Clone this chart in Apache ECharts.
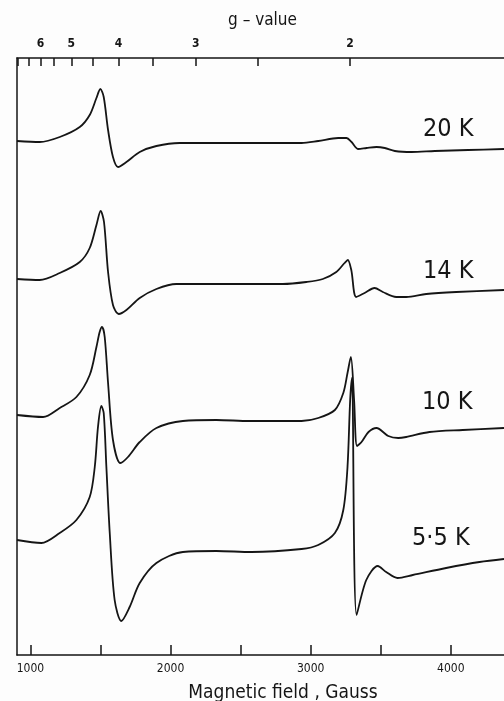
<!DOCTYPE html>
<html>
<head>
<meta charset="utf-8">
<script src="https://cdn.jsdelivr.net/npm/echarts@6/dist/echarts.min.js"></script>
<style>
  html, body { margin: 0; padding: 0; background: #fdfdfd; }
  #chart { width: 504px; height: 701px; }
</style>
</head>
<body>
<div id="chart"></div>
<script>
// Magnetic field range (Gauss)
const fieldMin = 904;
const fieldMax = 4380;
const fieldTicks = [1000, 1500, 2000, 2500, 3000, 3500, 4000];
const fieldLabels = [1000, 2000, 3000, 4000];

// g-value scale (top axis): tick g-values and their field positions (Gauss)
const gTicks = [7, 6.5, 6, 5.5, 5, 4.5, 4, 3.5, 3, 2.5, 2];
const gTickField = [912, 990, 1071, 1168, 1292, 1447, 1628, 1870, 2179, 2621, 3280];
const gLabels = ['6', '5', '4', '3', '2'];
const gLabelField = [1071, 1292, 1628, 2179, 3280];

// Temperatures (series names / labels)
const temps = ['20 K', '14 K', '10 K', '5·5 K'];

// Spectra: [field (G), signal (arb. units, vertically offset)]
const spec20K = [[904,514],[1066,513],[1209,518],[1352,528],[1423,540],[1471,557],[1499,566],[1523,558],[1554,525],[1589,498],[1625,488],[1685,493],[1780,503],[1899,509],[2065,512],[2208,512],[2578,512],[2935,512],[3054,514],[3197,517],[3256,517],[3292,513],[3340,506],[3399,507],[3470,508],[3529,507],[3601,504],[3720,503],[3886,504],[4124,505],[4380,506]];
const spec14K = [[904,376],[1066,375],[1209,382],[1352,393],[1423,407],[1471,430],[1501,444],[1525,433],[1554,383],[1589,350],[1630,341],[1685,345],[1780,357],[1899,366],[2041,371],[2208,371],[2564,371],[2802,371],[2969,373],[3087,376],[3183,383],[3242,392],[3265,395],[3290,385],[3325,358],[3385,362],[3456,367],[3515,363],[3611,358],[3682,358],[3825,361],[4039,363],[4380,365]];
const spec10K = [[904,240],[1090,238],[1209,247],[1328,258],[1423,280],[1471,308],[1494,323],[1511,328],[1530,318],[1554,272],[1589,215],[1642,192],[1696,198],[1780,213],[1899,227],[2088,234],[2327,235],[2564,234],[2935,234],[3054,237],[3173,245],[3233,262],[3263,282],[3287,298],[3310,255],[3331,209],[3363,213],[3413,223],[3470,227],[3554,219],[3625,217],[3682,218],[3848,223],[4086,225],[4380,227]];
const spec5K = [[904,115],[1078,112],[1209,122],[1328,135],[1423,158],[1459,188],[1482,228],[1506,249],[1523,242],[1542,188],[1566,122],[1601,55],[1649,34],[1708,48],[1780,72],[1899,92],[2088,103],[2327,104],[2578,103],[2935,106],[3054,110],[3173,122],[3233,145],[3263,188],[3282,255],[3295,277],[3328,40],[3397,75],[3479,89],[3539,83],[3620,77],[3729,80],[3967,87],[4205,93],[4380,96]];

const spectra = [spec20K, spec14K, spec10K, spec5K];

const font = "'DejaVu Sans Condensed', 'DejaVu Sans', sans-serif";
const ink = '#151515';

const chart = echarts.init(document.getElementById('chart'), null, { renderer: 'canvas' });

const option = {
  backgroundColor: '#fdfdfd',
  animation: false,
  grid: { left: 17, right: 0, top: 58, bottom: 46, containLabel: false, outerBoundsMode: 'none' },
  xAxis: [
    {
      type: 'value', position: 'bottom', min: fieldMin, max: fieldMax,
      name: 'Magnetic field , Gauss', nameLocation: 'middle', nameGap: 29,
      nameTextStyle: { fontFamily: font, fontSize: 19, color: ink, padding: [0, 0, 0, 45] },
      axisLine: { show: true, onZero: false, lineStyle: { color: ink, width: 1.5 } },
      axisTick: { show: true, inside: true, length: 10, customValues: fieldTicks, lineStyle: { color: ink, width: 1.5 } },
      axisLabel: {
        show: true, margin: 8, customValues: fieldLabels, fontFamily: font, fontSize: 12, color: ink,
        formatter: function (v) { return String(v); }
      },
      splitLine: { show: false }
    },
    {
      type: 'value', position: 'top', min: fieldMin, max: fieldMax,
      name: 'g – value', nameLocation: 'middle', nameGap: 29,
      nameTextStyle: { fontFamily: font, fontSize: 17, color: ink, padding: [0, 0, 0, 4] },
      axisLine: { show: true, onZero: false, lineStyle: { color: ink, width: 1.5 } },
      axisTick: { show: true, inside: true, length: 8, customValues: gTickField, lineStyle: { color: ink, width: 1.5 } },
      axisLabel: {
        show: true, margin: 8, customValues: gLabelField, fontFamily: font, fontSize: 12, fontWeight: 'bold', color: ink,
        formatter: function (v) {
          const i = gLabelField.indexOf(v);
          return i >= 0 ? gLabels[i] : '';
        }
      },
      splitLine: { show: false }
    }
  ],
  yAxis: {
    type: 'value', min: 0, max: 597,
    axisLine: { show: true, onZero: false, lineStyle: { color: ink, width: 1.5 } },
    axisTick: { show: false }, axisLabel: { show: false }, splitLine: { show: false }
  },
  series: spectra.map(function (d, i) {
    return {
      name: temps[i], type: 'line', xAxisIndex: 0, data: d,
      showSymbol: false, symbol: 'none', smooth: 0.3,
      lineStyle: { color: ink, width: 1.8 }
    };
  }),
  graphic: [
    { type: 'text', left: 423, top: 117, style: { text: temps[0], font: "25px " + font, fill: ink } },
    { type: 'text', left: 423, top: 259, style: { text: temps[1], font: "25px " + font, fill: ink } },
    { type: 'text', left: 422, top: 390, style: { text: temps[2], font: "25px " + font, fill: ink } },
    { type: 'text', left: 412, top: 526, style: { text: temps[3], font: "25px " + font, fill: ink } }
  ]
};

chart.setOption(option);
</script>
</body>
</html>
